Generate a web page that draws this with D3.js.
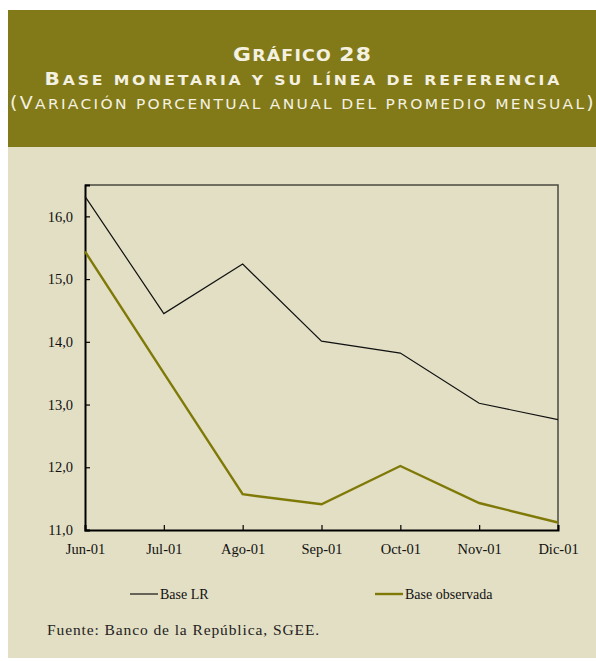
<!DOCTYPE html>
<html lang="es">
<head>
<meta charset="UTF-8">
<script src="https://cdnjs.cloudflare.com/ajax/libs/d3/7.8.5/d3.min.js"></script>
<title>Gráfico 28 - Base monetaria</title>
<style>
  body { margin: 0; background: #fff; }
  svg { display: block; }
</style>
</head>
<body>
<svg id="chart" width="596" height="661"></svg>
<script>
// data
var months = ["Jun-01", "Jul-01", "Ago-01", "Sep-01", "Oct-01", "Nov-01", "Dic-01"];
var baseLR = [16.32, 14.45, 15.24, 14.01, 13.82, 13.02, 12.76];
var baseObservada = [15.44, 13.5, 11.57, 11.41, 12.02, 11.43, 11.12];
var yTicks = [11, 12, 13, 14, 15, 16];

var svg = d3.select("#chart");
var olive = "#827a19";

// background panels
svg.append("rect").attr("x", 8).attr("y", 10).attr("width", 600).attr("height", 648).attr("fill", "#e3dfc4");
svg.append("rect").attr("x", 8).attr("y", 10).attr("width", 600).attr("height", 137).attr("fill", olive);

// titles, drawn as hand made small caps, glyphs widened a bit
var titles = [
  { t: "Gráfico 28", y: 61, big: 19.5, small: 15.5, len: 138, w: "bold" },
  { t: "Base monetaria y su línea de referencia", y: 85, big: 18, small: 14, len: 515, w: "bold" },
  { t: "(Variación porcentual anual del promedio mensual)", y: 109, big: 17, small: 13.8, len: 584, w: "normal" }
];
var sx = 1.12;
titles.forEach(function (d) {
  var txt = svg.append("text")
    .attr("y", d.y)
    .style("font-family", "'DejaVu Sans', sans-serif")
    .style("font-weight", d.w)
    .attr("fill", "#f4f1e0");
  var runs = d.t.match(/[^a-záéíóúñ ]+|[a-záéíóúñ ]+/g);
  runs.forEach(function (r) {
    var lower = /[a-záéíóúñ ]/.test(r[0]);
    txt.append("tspan")
      .style("font-size", (lower ? d.small : d.big) + "px")
      .text(r.toUpperCase());
  });
  var n = d.t.length;
  var natural = txt.node().getComputedTextLength();
  var ls = (d.len / sx - natural) / (n - 1);
  txt.style("letter-spacing", ls + "px");
  txt.attr("x", 0)
    .attr("transform", "translate(" + (302 - d.len / 2) + ",0) scale(" + sx + ",1)");
});

// scales
var x = d3.scalePoint().domain(months).range([85, 558]);
var y = d3.scaleLinear().domain([11, 16.5]).range([530, 185]);

// frame: top and right thinner
svg.append("path")
  .attr("d", "M85,185H558V530")
  .attr("fill", "none").attr("stroke", "#4a4a40").attr("stroke-width", 1.5);

var font = "'Liberation Serif', 'Times New Roman', serif";

var yAxis = svg.append("g").attr("transform", "translate(85,0)")
  .call(d3.axisLeft(y).tickValues(yTicks).tickSize(-5).tickPadding(12)
    .tickFormat(d => d3.format(".1f")(d).replace(".", ",")));
var xAxis = svg.append("g").attr("transform", "translate(0,530)")
  .call(d3.axisBottom(x).tickSize(-5).tickPadding(14));

[yAxis, xAxis].forEach(function (g) {
  g.select(".domain").attr("stroke", "#000").attr("stroke-width", 2);
  g.selectAll(".tick line").attr("stroke", "#000").attr("stroke-width", 1.2);
  g.selectAll(".tick text").attr("fill", "#111")
    .style("font-family", font).style("font-size", "14.5px");
});

// lines
var line = d3.line().x((d, i) => x(months[i])).y(d => y(d));
svg.append("path").datum(baseLR).attr("d", line)
  .attr("fill", "none").attr("stroke", "#111").attr("stroke-width", 1.2);
svg.append("path").datum(baseObservada).attr("d", line)
  .attr("fill", "none").attr("stroke", "#7f7a08").attr("stroke-width", 2.4);

// legend
var legend = [
  { name: "Base LR", color: "#111", w: 1.2, x: 130 },
  { name: "Base observada", color: "#7f7a08", w: 2.4, x: 375 }
];
var lg = svg.selectAll("g.legend").data(legend).enter().append("g")
  .attr("class", "legend")
  .attr("transform", d => "translate(" + d.x + ",594)");
lg.append("line").attr("x1", 0).attr("x2", 28).attr("y1", 0).attr("y2", 0)
  .attr("stroke", d => d.color).attr("stroke-width", d => d.w);
lg.append("text").attr("x", 30).attr("y", 4.5)
  .style("font-family", font).style("font-size", "14px").attr("fill", "#111")
  .text(d => d.name);

svg.append("text").attr("x", 47).attr("y", 635)
  .style("font-family", font).style("font-size", "15.5px")
  .style("letter-spacing", "0.9px")
  .attr("fill", "#222")
  .text("Fuente: Banco de la República, SGEE.");
</script>
</body>
</html>
